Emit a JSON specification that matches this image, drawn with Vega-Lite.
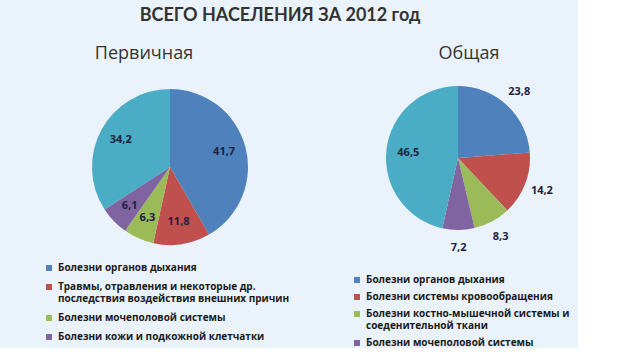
{
  "$schema": "https://vega.github.io/schema/vega-lite/v6.json",
  "background": "#eaf3fb",
  "padding": {"left": 20, "top": 7, "right": 0, "bottom": 0},
  "config": {
    "view": {"stroke": null},
    "font": "Lato",
    "locale": {"number": {"decimal": ",", "thousands": " ", "grouping": [3], "currency": ["", ""]}}
  },
  "title": {
    "text": "ВСЕГО НАСЕЛЕНИЯ ЗА 2012 год",
    "font": "Lato",
    "fontSize": 18,
    "fontWeight": "bold",
    "color": "#333333",
    "anchor": "middle",
    "dx": -19,
    "offset": 20
  },
  "datasets": {
    "primary": [
      {"ord": 1, "cat": "Болезни органов дыхания", "value": 41.7},
      {"ord": 2, "cat": "Травмы, отравления и некоторые др.|последствия воздействия внешних причин", "value": 11.8},
      {"ord": 3, "cat": "Болезни мочеполовой системы", "value": 6.3},
      {"ord": 4, "cat": "Болезни кожи и подкожной клетчатки", "value": 6.1},
      {"ord": 5, "cat": "Прочие", "value": 34.2}
    ],
    "total": [
      {"ord": 1, "cat": "Болезни органов дыхания", "value": 23.8},
      {"ord": 2, "cat": "Болезни системы кровообращения", "value": 14.2},
      {"ord": 3, "cat": "Болезни костно-мышечной системы и|соеденительной ткани", "value": 8.3},
      {"ord": 4, "cat": "Болезни мочеполовой системы", "value": 7.2},
      {"ord": 5, "cat": "Прочие ", "value": 46.5}
    ]
  },
  "resolve": {"scale": {"color": "independent"}, "legend": {"color": "independent"}},
  "spacing": 18,
  "hconcat": [
    {
      "width": 300,
      "height": 200,
      "title": {"text": "Первичная", "font": "Open Sans", "fontSize": 18, "fontWeight": "normal", "color": "#333333", "anchor": "middle", "dx": -26, "offset": 4},
      "data": {"name": "primary"},
      "layer": [
        {
          "mark": {"type": "arc", "outerRadius": 78},
          "encoding": {
            "theta": {"field": "value", "type": "quantitative", "stack": true},
            "order": {"field": "ord", "type": "quantitative"},
            "color": {
              "field": "cat",
              "type": "nominal",
              "scale": {
                "domain": ["Болезни органов дыхания", "Травмы, отравления и некоторые др.|последствия воздействия внешних причин", "Болезни мочеполовой системы", "Болезни кожи и подкожной клетчатки", "Прочие"],
                "range": ["#4f81bd", "#c0504d", "#9bbb59", "#8064a2", "#4bacc6"]
              },
              "legend": {
                "values": ["Болезни органов дыхания", "Травмы, отравления и некоторые др.|последствия воздействия внешних причин", "Болезни мочеполовой системы", "Болезни кожи и подкожной клетчатки"],
                "orient": "none",
                "legendX": 24,
                "legendY": 196,
                "direction": "vertical",
                "title": null,
                "symbolType": "square",
                "symbolSize": 36,
                "symbolStrokeWidth": 0,
                "labelFont": "Open Sans",
                "labelFontSize": 10,
                "labelFontWeight": "bold",
                "labelColor": "#1a1a1a",
                "labelLimit": 320,
                "labelLineHeight": 12,
                "rowPadding": 9,
                "labelExpr": "split(datum.label, '|')"
              }
            }
          }
        },
        {
          "mark": {"type": "text", "radius": 56, "font": "Open Sans", "fontSize": 11, "fontWeight": "bold", "color": "#1c2340"},
          "encoding": {
            "theta": {"field": "value", "type": "quantitative", "stack": true},
            "order": {"field": "ord", "type": "quantitative"},
            "detail": {"field": "cat", "type": "nominal"},
            "text": {"field": "value", "type": "quantitative", "format": ".1f"}
          }
        }
      ]
    },
    {
      "width": 240,
      "height": 182,
      "title": {"text": "Общая", "font": "Open Sans", "fontSize": 18, "fontWeight": "normal", "color": "#333333", "anchor": "middle", "dx": 11, "offset": 4},
      "data": {"name": "total"},
      "layer": [
        {
          "mark": {"type": "arc", "outerRadius": 72},
          "encoding": {
            "theta": {"field": "value", "type": "quantitative", "stack": true},
            "order": {"field": "ord", "type": "quantitative"},
            "color": {
              "field": "cat",
              "type": "nominal",
              "scale": {
                "domain": ["Болезни органов дыхания", "Болезни системы кровообращения", "Болезни костно-мышечной системы и|соеденительной ткани", "Болезни мочеполовой системы", "Прочие "],
                "range": ["#4f81bd", "#c0504d", "#9bbb59", "#8064a2", "#4bacc6"]
              },
              "legend": {
                "values": ["Болезни органов дыхания", "Болезни системы кровообращения", "Болезни костно-мышечной системы и|соеденительной ткани", "Болезни мочеполовой системы"],
                "orient": "none",
                "legendX": 14,
                "legendY": 208,
                "direction": "vertical",
                "title": null,
                "symbolType": "square",
                "symbolSize": 36,
                "symbolStrokeWidth": 0,
                "labelFont": "Open Sans",
                "labelFontSize": 10,
                "labelFontWeight": "bold",
                "labelColor": "#1a1a1a",
                "labelLimit": 320,
                "labelLineHeight": 12,
                "rowPadding": 7,
                "labelExpr": "split(datum.label, '|')"
              }
            }
          }
        },
        {
          "mark": {"type": "text", "radius": 90, "font": "Open Sans", "fontSize": 11, "fontWeight": "bold", "color": "#1c2340"},
          "encoding": {
            "theta": {"field": "value", "type": "quantitative", "stack": true},
            "order": {"field": "ord", "type": "quantitative"},
            "detail": {"field": "cat", "type": "nominal"},
            "text": {"field": "value", "type": "quantitative", "format": ".1f"},
            "opacity": {"condition": {"test": "datum.ord < 5", "value": 1}, "value": 0}
          }
        },
        {
          "mark": {"type": "text", "radius": 50, "font": "Open Sans", "fontSize": 11, "fontWeight": "bold", "color": "#1c2340"},
          "encoding": {
            "theta": {"field": "value", "type": "quantitative", "stack": true},
            "order": {"field": "ord", "type": "quantitative"},
            "detail": {"field": "cat", "type": "nominal"},
            "text": {"field": "value", "type": "quantitative", "format": ".1f"},
            "opacity": {"condition": {"test": "datum.ord == 5", "value": 1}, "value": 0}
          }
        }
      ]
    }
  ]
}
